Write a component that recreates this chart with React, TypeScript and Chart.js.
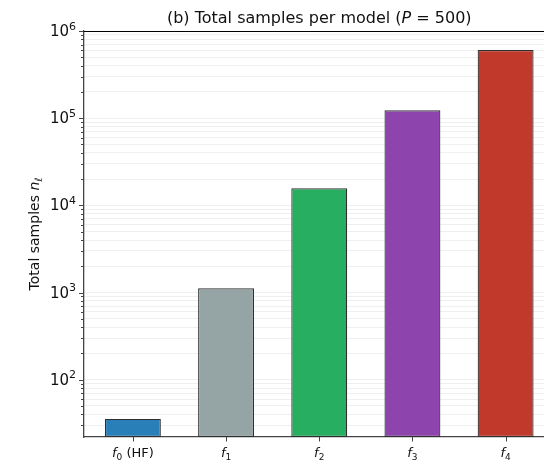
import { useEffect, useRef } from 'react';
import { Chart, registerables } from 'chart.js';

Chart.register(...registerables);

// ---- data ----
const categories = ['f_0 (HF)', 'f_1', 'f_2', 'f_3', 'f_4'];
const totalSamples = [35.5, 1120, 15700, 123000, 605000];
const barColors = ['#2980b9', '#95a5a6', '#27ae60', '#8e44ad', '#c0392b'];
const yMajorExponents = [2, 3, 4, 5, 6];
const titleRuns = [
  { text: '(b) Total samples per model (', style: 'normal' },
  { text: 'P', style: 'italic' },
  { text: ' = 500)', style: 'normal' },
];
const yTitleRuns = [
  { text: 'Total samples ', style: 'normal' },
  { text: 'n', style: 'italic' },
  { text: 'ℓ', style: 'italic-sub' },
];

const FONT = "'DejaVu Sans', sans-serif";

type Run = { text: string; style: string };

function runFont(style: string, size: number) {
  if (style === 'italic') return `italic ${size}px ${FONT}`;
  if (style === 'sub' || style === 'sup') return `${Math.round(size * 0.7)}px ${FONT}`;
  if (style === 'italic-sub') return `italic ${Math.round(size * 0.7)}px ${FONT}`;
  return `${size}px ${FONT}`;
}
function runDy(style: string, size: number) {
  if (style === 'sub' || style === 'italic-sub') return size * 0.22;
  if (style === 'sup') return -size * 0.42;
  return 0;
}
function drawRuns(ctx: CanvasRenderingContext2D, runs: Run[], x: number, y: number, size: number, align: 'left' | 'center' | 'right') {
  let total = 0;
  const widths = runs.map((r) => {
    ctx.font = runFont(r.style, size);
    const w = ctx.measureText(r.text).width;
    total += w;
    return w;
  });
  let cx = align === 'center' ? x - total / 2 : align === 'right' ? x - total : x;
  ctx.textAlign = 'left';
  ctx.textBaseline = 'alphabetic';
  runs.forEach((r, i) => {
    ctx.font = runFont(r.style, size);
    ctx.fillText(r.text, cx, y + runDy(r.style, size));
    cx += widths[i];
  });
}
function parseCategory(label: string): Run[] {
  const m = label.match(/^(\w)_(\w)(.*)$/);
  if (!m) return [{ text: label, style: 'normal' }];
  const runs: Run[] = [
    { text: m[1], style: 'italic' },
    { text: m[2], style: 'sub' },
  ];
  if (m[3]) runs.push({ text: m[3], style: 'normal' });
  return runs;
}

const decorPlugin = {
  id: 'decor',
  afterDraw(chart: any) {
    const ctx: CanvasRenderingContext2D = chart.ctx;
    const area = chart.chartArea;
    const xs = chart.scales.x;
    const ys = chart.scales.y;
    ctx.save();
    ctx.fillStyle = '#111';
    // top spine
    ctx.strokeStyle = '#000';
    ctx.lineWidth = 1.2;
    ctx.beginPath();
    ctx.moveTo(area.left, area.top + 0.5);
    ctx.lineTo(area.right, area.top + 0.5);
    ctx.stroke();
    // title
    drawRuns(ctx, titleRuns, (area.left + area.right) / 2, 23, 16, 'center');
    // y title
    ctx.save();
    ctx.translate(39, (area.top + area.bottom) / 2);
    ctx.rotate(-Math.PI / 2);
    drawRuns(ctx, yTitleRuns, 0, 0, 14, 'center');
    ctx.restore();
    // x ticks
    ctx.strokeStyle = '#444';
    ctx.lineWidth = 1;
    categories.forEach((c, i) => {
      const px = xs.getPixelForValue(i);
      ctx.beginPath();
      ctx.moveTo(Math.round(px) + 0.5, area.bottom);
      ctx.lineTo(Math.round(px) + 0.5, area.bottom + 4.5);
      ctx.stroke();
      drawRuns(ctx, parseCategory(c), px, 457, 13, 'center');
    });
    // y ticks
    ys.ticks.forEach((t: any) => {
      const py = Math.round(ys.getPixelForValue(t.value)) + 0.5;
      const major = t.major;
      ctx.beginPath();
      ctx.moveTo(area.left, py);
      ctx.lineTo(area.left - (major ? 4.5 : 2.5), py);
      ctx.stroke();
    });
    yMajorExponents.forEach((e) => {
      const py = ys.getPixelForValue(Math.pow(10, e));
      drawRuns(
        ctx,
        [
          { text: '10', style: 'normal' },
          { text: String(e), style: 'sup' },
        ],
        76,
        py + 5,
        15,
        'right'
      );
    });
    ctx.restore();
  },
};

export default function App() {
  const ref = useRef<HTMLCanvasElement>(null);
  useEffect(() => {
    if (!ref.current) return;
    const chart = new Chart(ref.current, {
      type: 'bar',
      data: {
        datasets: [
          {
            data: totalSamples.map((v, i) => ({ x: i, y: v })),
            backgroundColor: barColors,
            borderColor: '#2e2e2e',
            borderWidth: 1.2,
            borderSkipped: false,
            barPercentage: 0.6,
            categoryPercentage: 1,
          } as any,
        ],
      },
      options: {
        responsive: false,
        animation: false,
        layout: { padding: { left: 0, right: 6, top: 31, bottom: 0 } },
        plugins: {
          legend: { display: false },
          tooltip: { enabled: false },
          title: { display: false },
        },
        scales: {
          x: {
            type: 'linear',
            min: -0.53,
            max: 4.53,
            offset: false,
            afterBuildTicks: (s: any) => {
              s.ticks = categories.map((_, i) => ({ value: i }));
            },
            grid: { display: false, drawTicks: false, offset: false },
            border: { display: true, color: '#444', width: 1.3 },
            ticks: { display: false },
            afterFit: (s: any) => {
              s.height = 25;
            },
          },
          y: {
            type: 'logarithmic',
            min: 22,
            max: 1e6,
            afterBuildTicks: (s: any) => {
              const ticks: any[] = [];
              for (let e = 1; e <= 6; e++) {
                for (let k = 1; k <= 9; k++) {
                  const v = k * Math.pow(10, e);
                  if (v >= 22 && v <= 1e6) ticks.push({ value: v, major: k === 1 });
                }
              }
              s.ticks = ticks;
            },
            grid: { color: '#ebebeb', lineWidth: 0.8, drawTicks: false },
            border: { display: true, color: '#444', width: 1.3 },
            ticks: { display: false },
            afterFit: (s: any) => {
              s.width = 83.5;
            },
          },
        },
      },
      plugins: [decorPlugin],
    });
    return () => chart.destroy();
  }, []);
  return (
    <div style={{ position: 'fixed', left: 0, top: 0, width: 544, height: 462, overflow: 'hidden', background: '#fff' }}>
      <canvas ref={ref} width={561} height={462} style={{ display: 'block' }} />
    </div>
  );
}
